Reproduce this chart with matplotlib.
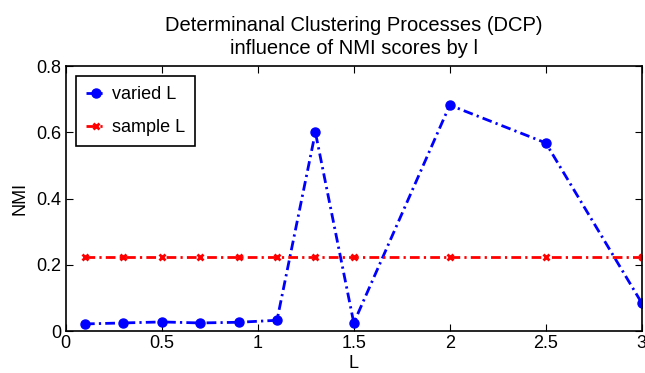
import matplotlib
matplotlib.use("Agg")
import matplotlib.pyplot as plt

# values
L_values = [0.1, 0.3, 0.5, 0.7, 0.9, 1.1, 1.3, 1.5, 2.0, 2.5, 3.0]
nmi_varied = [0.022, 0.025, 0.028, 0.025, 0.027, 0.033, 0.600, 0.025, 0.682, 0.568, 0.085]
nmi_sample = [0.225] * len(L_values)

plt.rcParams['font.family'] = ['Liberation Sans', 'DejaVu Sans']

fig = plt.figure(figsize=(6.45, 3.73), dpi=100)
ax = fig.add_axes([0.102, 0.112, 0.893, 0.711])

dash_dot = (3.5, 1.5, 0.8, 1.5)
ax.plot(L_values, nmi_varied, color='blue', linestyle=(0, dash_dot), linewidth=2,
        marker='o', markersize=6.5, label='varied L')
ax.plot(L_values, nmi_sample, color='red', linestyle=(0, dash_dot), linewidth=2,
        marker='x', markersize=5, markeredgewidth=2, label='sample L')

ax.set_xlim(0, 3)
ax.set_ylim(0, 0.8)
ax.set_xticks([0, 0.5, 1, 1.5, 2, 2.5, 3])
ax.set_xticklabels(['0', '0.5', '1', '1.5', '2', '2.5', '3'])
ax.set_yticks([0, 0.2, 0.4, 0.6, 0.8])
ax.set_yticklabels(['0', '0.2', '0.4', '0.6', '0.8'])
ax.tick_params(direction='in', top=True, right=True, labelsize=13, length=5, pad=3)
for s in ax.spines.values():
    s.set_linewidth(1.2)

ax.set_xlabel('L', fontsize=13, labelpad=2)
ax.set_ylabel('NMI', fontsize=13, labelpad=6)
ax.set_title('Determinanal Clustering Processes (DCP)\ninfluence of NMI scores by l',
             fontsize=14.5, pad=9, linespacing=1.25)

leg = ax.legend(loc='upper left', fontsize=13, fancybox=False, framealpha=1,
                edgecolor='black', handlelength=1.1, borderpad=0.55,
                labelspacing=0.9, handletextpad=0.35, borderaxespad=0.55)
leg.get_frame().set_linewidth(1.2)

fig.savefig('out.png', dpi=100)
